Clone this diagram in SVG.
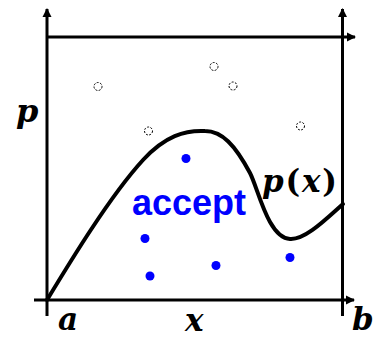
<svg xmlns="http://www.w3.org/2000/svg" width="376" height="337" viewBox="0 0 376 337">
<style>
.ax{stroke:#000;stroke-width:3;fill:none}
.curve{stroke:#000;stroke-width:4;fill:none;stroke-linecap:round}
.rej{fill:none;stroke:#000;stroke-width:1;stroke-dasharray:2 1.4}
.acc{fill:#0000ff}
.m{font-family:"DejaVu Serif","Liberation Serif",serif;font-weight:bold;font-style:italic;fill:#000}
.up{font-style:normal}
.lbl{font-family:"Liberation Sans",Arial,sans-serif;font-weight:bold;fill:#0000ff}
</style>
<defs>
<marker id="ah" markerWidth="10" markerHeight="10" refX="8" refY="5" orient="auto" markerUnits="userSpaceOnUse">
<path d="M0,0.5 L9,5 L0,9.5 Z" fill="#000"/>
</marker>
</defs>
<g id="connectors">
<line class="ax" x1="47" y1="316" x2="47" y2="9" marker-end="url(#ah)"/>
<line class="ax" x1="342.5" y1="316" x2="342.5" y2="9" marker-end="url(#ah)"/>
<line class="ax" x1="47" y1="37" x2="355" y2="37" marker-end="url(#ah)"/>
<line class="ax" x1="34" y1="300" x2="354" y2="300" marker-end="url(#ah)"/>
<path id="px" class="curve" d="M47,300 C70,262 110,196 143,160 C165,136 185,130 205,131 C222,131 235,145 250,173 C258,188 268,238 290,239 C305,240 325,220 343,204"/>
</g>
<g id="rejected">
<circle class="rej" cx="98" cy="86.5" r="4"/>
<circle class="rej" cx="214" cy="66.5" r="4"/>
<circle class="rej" cx="233" cy="86" r="4"/>
<circle class="rej" cx="148.5" cy="131" r="4"/>
<circle class="rej" cx="300.5" cy="126" r="4"/>
</g>
<g id="accepted">
<circle class="acc" cx="186" cy="158.5" r="4.5"/>
<circle class="acc" cx="145" cy="238.5" r="4.5"/>
<circle class="acc" cx="150" cy="276" r="4.5"/>
<circle class="acc" cx="216" cy="265.5" r="4.5"/>
<circle class="acc" cx="290" cy="257.5" r="4.5"/>
</g>
<g id="labels">
<text class="lbl" x="132" y="215" font-size="36">accept</text>
<text class="m" x="16" y="122" font-size="32">p</text>
<text class="m" x="262" y="192" font-size="31" letter-spacing="1.8">p<tspan class="up">(</tspan>x<tspan class="up">)</tspan></text>
<text class="m" x="58" y="330" font-size="31">a</text>
<text class="m" x="185" y="331" font-size="31">x</text>
<text class="m" x="352" y="330" font-size="31">b</text>
</g>
</svg>
